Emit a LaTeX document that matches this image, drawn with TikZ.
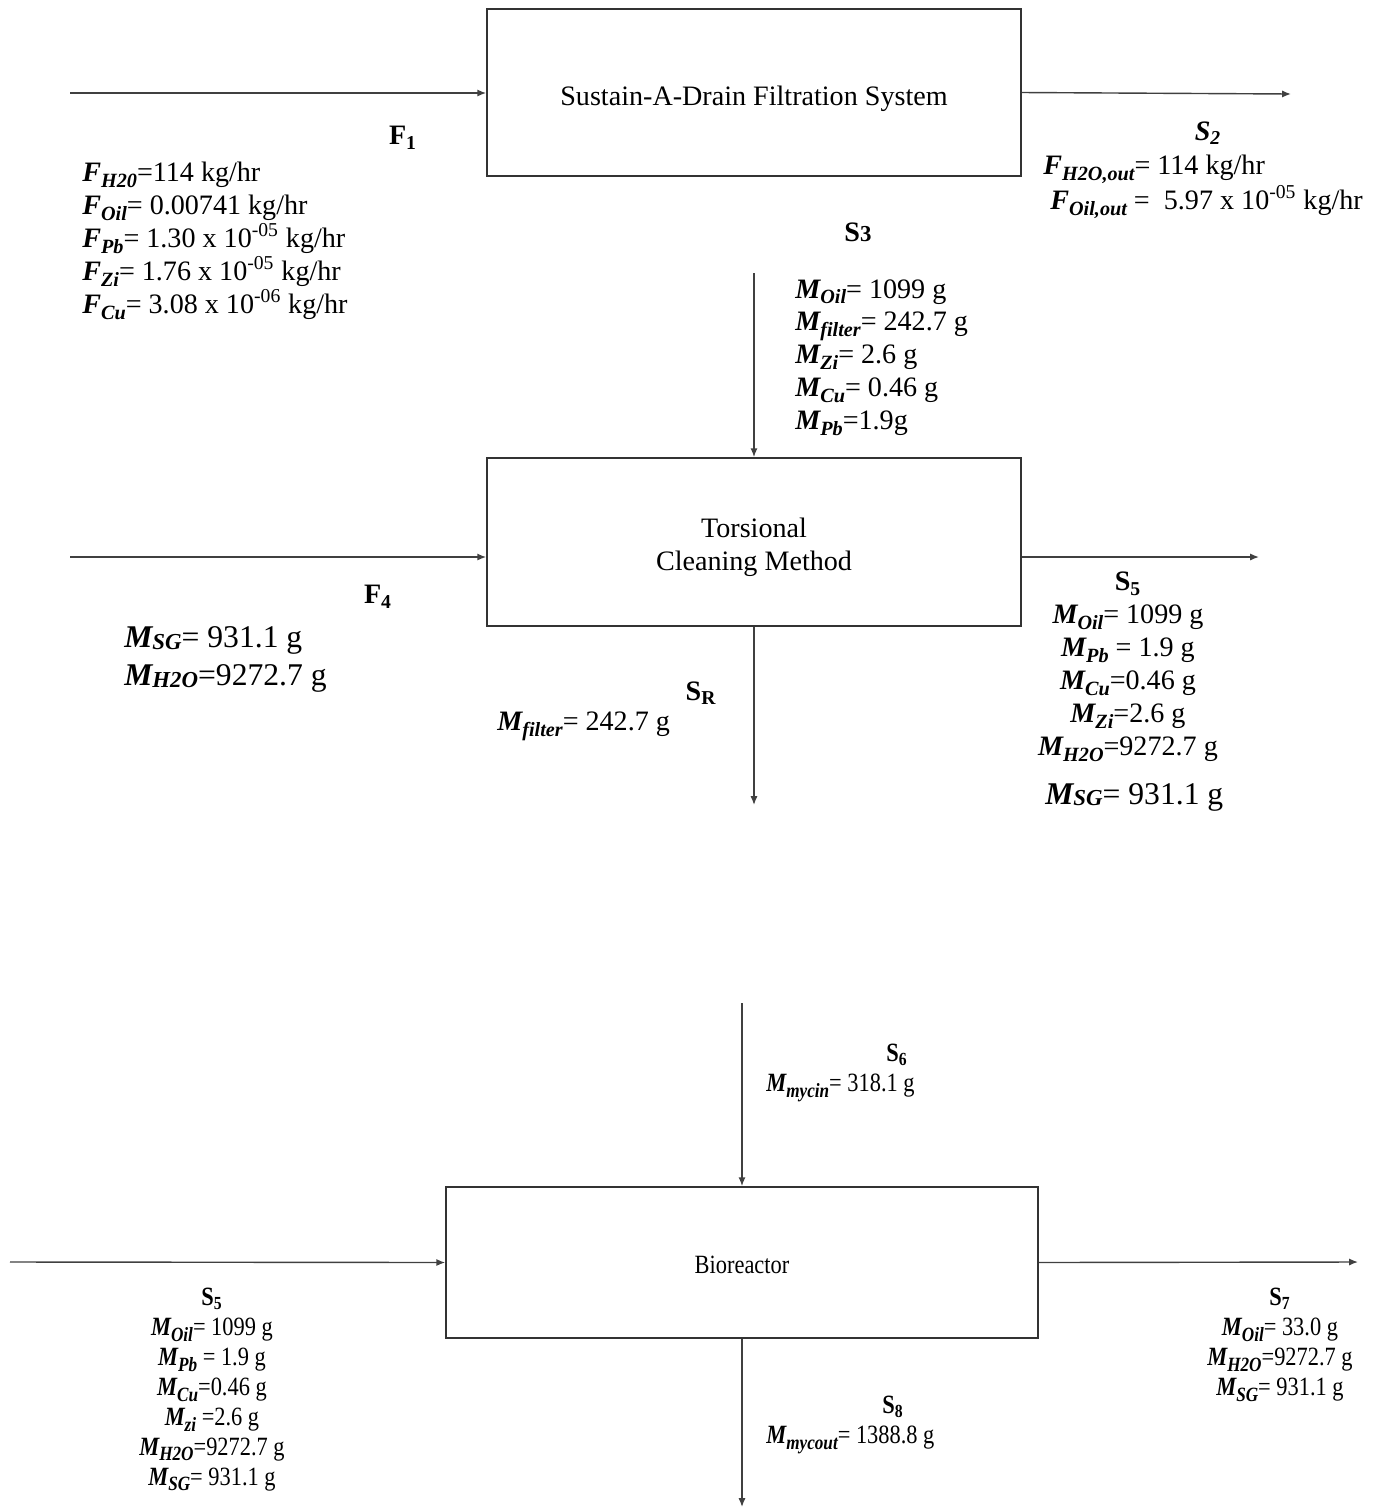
\documentclass[tikz,border=0pt]{standalone}
\usepackage{fontspec}
\setmainfont{Liberation Serif}
\newfontfamily\narrowserif[FakeStretch=0.85]{Liberation Serif}
\usetikzlibrary{arrows.meta}
\tikzset{%
  flow/.style={draw=black!75, line width=0.8pt, -{Latex[length=5pt,width=4pt]}},
  unitbox/.style={draw=black!80, line width=1pt},
  boxtext/.style={align=center, font=\fontsize{16}{18.7}\selectfont},
  stream/.style={inner sep=0pt, font=\fontsize{16}{18.7}\selectfont},
  bigstream/.style={inner sep=0pt, font=\fontsize{18}{22}\selectfont},
  smallstream/.style={inner sep=0pt, font=\narrowserif\fontsize{15}{17}\selectfont},
}
\newcommand{\sv}[2]{\textbf{\textit{#1\raisebox{-3.3pt}{\fontsize{11.5}{11.5}\selectfont #2}}}}
\newcommand{\svb}[2]{\textbf{\textit{#1\raisebox{-1pt}{\fontsize{13}{13}\selectfont #2}}}}

\begin{document}
\begin{tikzpicture}[x=0.02cm, y=-0.02cm]
    \useasboundingbox (0,0) rectangle (1377,1509);

    % process units
    \node[unitbox, minimum width=10.68cm, minimum height=3.34cm,
          label={[boxtext, yshift=-3.4pt]center:Sustain-A-Drain Filtration System}] (filt) at (754,92.5) {};
    \node[unitbox, minimum width=10.68cm, minimum height=3.36cm,
          label={[boxtext, yshift=-2.8pt]center:Torsional\\Cleaning Method}] (torsion) at (754,542) {};
    \node[unitbox, minimum width=11.84cm, minimum height=3.02cm,
          label={[boxtext, yshift=-1.5pt, font=\narrowserif\fontsize{15}{17}\selectfont]center:Bioreactor}] (bioreactor) at (742,1262.5) {};

    % free ends of the streams
    \coordinate (F1) at (70,93);
    \coordinate (S2) at (1291,94);
    \coordinate (S3) at (754,273);
    \coordinate (F4) at (70,557);
    \coordinate (S5) at (1259,557);
    \coordinate (SR) at (754,805);
    \coordinate (S6) at (742,1003);
    \coordinate (S5b) at (10,1262);
    \coordinate (S7) at (1358,1262);
    \coordinate (S8) at (742,1507);

    %streams
    \draw[flow] (F1) -- (F1 -| filt.west);
    \draw[flow] (filt.east) -- (S2);
    \draw[flow] (S3) -- (torsion.north);
    \draw[flow] (F4) -- (F4 -| torsion.west);
    \draw[flow] (F4 -| torsion.east) -- (S5);
    \draw[flow] (torsion.south) -- (SR);
    \draw[flow] (S6) -- (bioreactor.north);
    \draw[flow] (S5b) -- (bioreactor.west);
    \draw[flow] (bioreactor.east) -- (S7);
    \draw[flow] (bioreactor.south) -- (S8);

    % stream labels, filtration
    \node[stream] (F1lbl) at (403,138) {\textbf{F\textsubscript{1}}};
    \node[stream, anchor=north west, align=left] (F1data) at (82,162) {%
      \sv{F}{H20}=114 kg/hr\\
      \sv{F}{Oil}= 0.00741 kg/hr\\
      \sv{F}{Pb}= 1.30 x 10\textsuperscript{-05} kg/hr\\
      \sv{F}{Zi}= 1.76 x 10\textsuperscript{-05} kg/hr\\
      \sv{F}{Cu}= 3.08 x 10\textsuperscript{-06} kg/hr};
    \node[stream] (S2lbl) at (1208,133) {\textbf{\textit{S\textsubscript{2}}}};
    \node[stream, anchor=north west, align=left] (S2data) at (1043,155) {%
      \sv{F}{H2O,out}= 114 kg/hr\\
      \hspace{4pt}\sv{F}{Oil,out} =\ \ 5.97 x 10\textsuperscript{-05} kg/hr};
    \node[stream] (S3lbl) at (858,232) {\textbf{S{\fontsize{13}{13}\selectfont 3}}};
    \node[stream, anchor=north west, align=left] (S3data) at (795,279) {%
      \sv{M}{Oil}= 1099 g\\
      \sv{M}{filter}= 242.7 g\\
      \sv{M}{Zi}= 2.6 g\\
      \sv{M}{Cu}= 0.46 g\\
      \sv{M}{Pb}=1.9g};

    % stream labels, cleaning
    \node[stream] (F4lbl) at (378,597) {\textbf{F\textsubscript{4}}};
    \node[bigstream, anchor=north west, align=left] (F4data) at (124,626) {%
      \svb{M}{SG}= 931.1 g\\
      \svb{M}{H2O}=9272.7 g};
    \node[stream] (SRlbl) at (701,693) {\textbf{S\textsubscript{R}}};
    \node[stream, anchor=west] (SRdata) at (497,726) {\sv{M}{filter}= 242.7 g};
    \node[stream, anchor=north, align=center] (S5data) at (1128,572) {%
      \textbf{S\textsubscript{5}}\\
      \sv{M}{Oil}= 1099 g\\
      \sv{M}{Pb} = 1.9 g\\
      \sv{M}{Cu}=0.46 g\\
      \sv{M}{Zi}=2.6 g\\
      \sv{M}{H2O}=9272.7 g};
    \node[bigstream, anchor=west] (S5sg) at (1045,797) {\svb{M}{SG}= 931.1 g};

    % stream labels, bioreactor
    \node[smallstream] (S6lbl) at (897,1055) {\textbf{S\textsubscript{6}}};
    \node[smallstream, anchor=west] (S6data) at (766,1088) {\sv{M}{mycin}= 318.1 g};
    \node[smallstream, anchor=north, align=center] (S5bdata) at (212,1288) {%
      \textbf{S\textsubscript{5}}\\
      \sv{M}{Oil}= 1099 g\\
      \sv{M}{Pb} = 1.9 g\\
      \sv{M}{Cu}=0.46 g\\
      \sv{M}{zi} =2.6 g\\
      \sv{M}{H2O}=9272.7 g\\
      \sv{M}{SG}= 931.1 g};
    \node[smallstream, anchor=north, align=center] (S7data) at (1280,1288) {%
      \textbf{S\textsubscript{7}}\\
      \sv{M}{Oil}= 33.0 g\\
      \sv{M}{H2O}=9272.7 g\\
      \sv{M}{SG}= 931.1 g};
    \node[smallstream] (S8lbl) at (893,1407) {\textbf{S\textsubscript{8}}};
    \node[smallstream, anchor=west] (S8data) at (766,1440) {\sv{M}{mycout}= 1388.8 g};
\end{tikzpicture}
\end{document}
